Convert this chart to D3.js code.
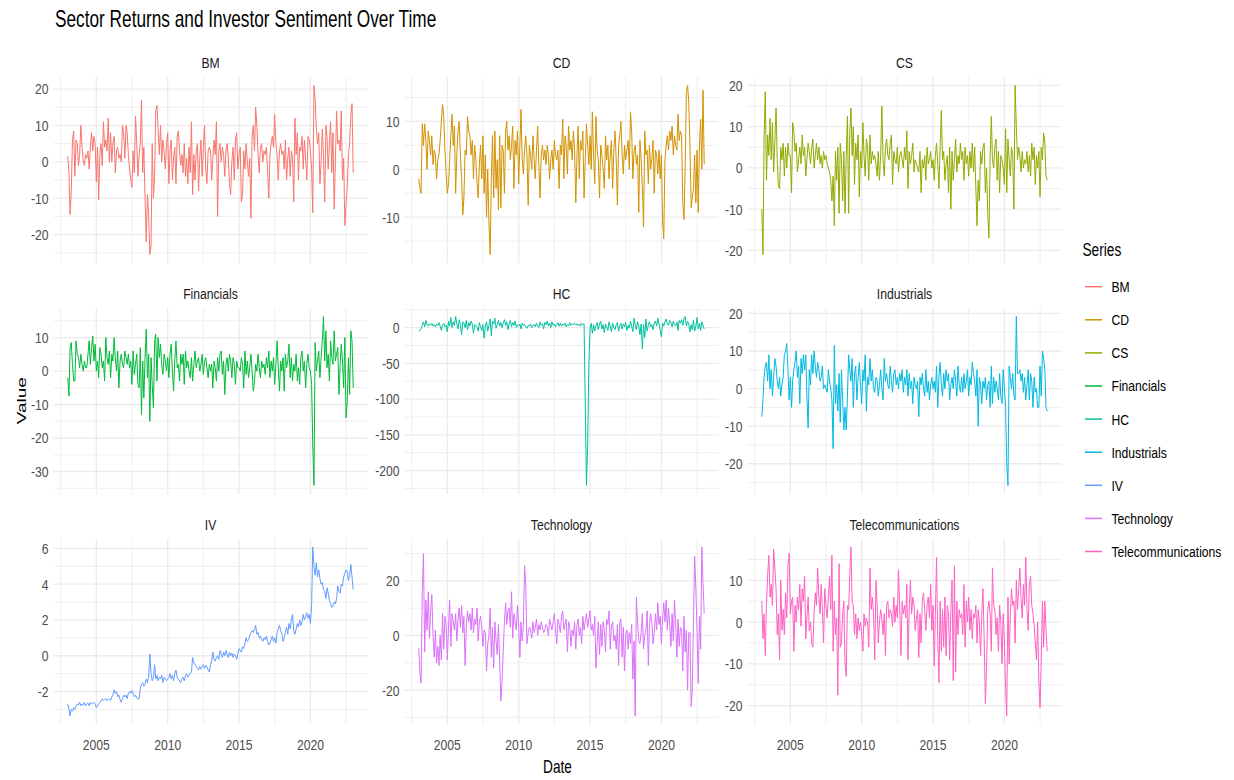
<!DOCTYPE html>
<html>
<head>
<meta charset="utf-8">
<script src="https://cdn.jsdelivr.net/npm/d3@7"></script>
<style>
  body { margin: 0; background: #fff; }
  svg { display: block; font-family: "Liberation Sans", Arial, sans-serif; }
</style>
</head>
<body>
<svg id="chart" width="1234" height="780"></svg>
<script>
'use strict';

// Monthly observations, Jan 2003 .. Jan 2023 (241 values per series)
var first_month = new Date(2003, 0, 1);
var last_month = new Date(2023, 0, 1);

var series_names = ["BM", "CD", "CS", "Financials", "HC", "Industrials", "IV", "Technology", "Telecommunications"];
var series_colors = ["#F8766D", "#D39200", "#93AA00", "#00BA38", "#00C19F", "#00B9E3", "#619CFF", "#DB72FB", "#FF61C3"];

var x_break_years = [2005, 2010, 2015, 2020];

// y breaks per facet, same order as series_names
var y_breaks = [
    [-20, -10, 0, 10, 20],
    [-10, 0, 10],
    [-20, -10, 0, 10, 20],
    [-30, -20, -10, 0, 10],
    [-200, -150, -100, -50, 0],
    [-20, -10, 0, 10, 20],
    [-2, 0, 2, 4, 6],
    [-20, 0, 20],
    [-20, -10, 0, 10]
];

var bm = [
    1.5, -3, -14.5, -8, 6, 8.5, -4, 6, 5, -1, 2, 10,
    4, 0, -1, 2, 1, 3, -2, 4, 8, 3, 7, 5,
    -5.5, 4, -10.5, 2, 5, -1, 11, 4, 6, 3, 12, 0,
    8, 0, 5, 7, -3, 3, 4, 1, 2, 0, 10, 8,
    1, 10, 8, 2, -2, -5, -7, 3, -3, 12.5, 5, -4,
    2, 5, 17, -3, 4, -10, -22, -9, -15, -25.5, -23, 5,
    -10, -4, 14, 15.5, 9, 2, 10, 0, 6, 3, -2, 5,
    8, -6, 3, 6, -5, 1, 4, -6, 7, 8.5, 3, -1,
    2, -3, 5, -4, 1, -6, 4, -3, 11, -9, 2, -5,
    3, 5, -8, 1, 6, -4, 4, 10, -2, -6, 3, 4,
    3, -5, 1, 6, 2, 11, -15, 3, 5, 0, 4, 2,
    -4, 3, 5, 1, -6, -9, 0, 4, -5, 6, 8, -2,
    2, 4, -11, -9, 3, -2, 5, 0, -4, 1, -15.5, 7,
    10, 3, 15, 10, 2, -3, 4, 5, 0, 3, 2, 4,
    -3, -10, 2, 5, 7, 4, 13, 5, 2, -5, 3, 5,
    2, 3, -2, 6, -5, 1, 4, -4, 3, 1, -11, 12,
    2, 8, -5, 4, 3, 7, -2, 6, 1, -5, 7, 6,
    3, -2, -14, 21, 17, 9, 5, 8, -6, 0, 9, 2,
    -11, 10, 7, -2, 5, 11, -3, 8, -13, 0, 14, 5,
    6, 3, 14, -5, 1, -17.5, -12, -7, 2, 5, 13, 16,
    -3
];

var cd = [
    -2, -4, -5, 9.5, 5, 9.5, 6, 0, 8, 6, 3, 7,
    1, 4, 3, -2, 2, 3, 6, 10, 13.5, 11, 4, -1,
    -5, -3, 2, 7, 11.5, 5, 9, -5, 3, 8, 10, 3,
    -2, -9.5, -6, 4, 3, 11, 8, 7, 3, 6, -2, 5,
    2, -3, -6, 1, 5, -2, 7, -5, 3, -10, 0, -11,
    -17.8, -2, 7, -6, 8, -4, 2, -8.5, 7, -8, 5, 4,
    -5, 8, 10, 4, 7, 2, 5, 9, -4, 6, 3, 8,
    -3, 5, 12.5, 2, -1, 4, 7, 3, -7.5, 5, 3, 0,
    7, 2, -2, 4, 9, 1, -6, 3, 5, 2, 4, 1,
    5, 3, -2, 2, 4, 0, 6, 3, 2, 4, -4, 5,
    3, 10.5, -2, 7, 5, -1, 9, 4, 6, 2, 8, 4,
    -7, 3, 9, -2, 6, 4, 8, -6, 2, 9.5, 5, 1,
    7, 0, 12, 3, -3, 11, 4, 2, -6, 5, 3, 0,
    -4, 7, 2, 5, -2, 3, 6, -4, 4, 8, 2, -7.5,
    5, 7, 10, 3, -1, 5, 2, 4, 6, 0, 12, 8,
    -2, 4, 5, 1, 3, -9, 6, 2, -4, -12, 8, 3,
    4, -3, 5, 0, 2, 6, -5, 4, 3, -1, 4, -2,
    3, -11, -14.5, 2, 5, 7, 4, 8, 6, 9, 3, 7,
    5, 4, 11.5, 6, 8, 7, -7, -10.5, 1, 16, 17.5, 14,
    5, -8, -6, -4, 3, -7, 4, -9, 5, 10.5, 0, 16.5,
    1
];

var cs = [
    -10, -21, 7, 18.5, -3, 8, 3, 12, 2, 11, -1, 6,
    14.5, 2, -4.5, -5, 5, 2, 6, -2, 5, 0, 6, 3,
    3, -6, 11, 9, 4, 6, -1, 2, 5, 1, 8, 3,
    5, -2, 2, 6, 4, 1, 5, 7, 0, 3, 6, 2,
    5, 1, 3, 0, 4, 2, 3, 1, 0, -1, -3, -8,
    -2, -14, 4, -3, 5, -11, 6, 2, -8, 4, -11, 3,
    12.5, -11, 8, 14.5, 3, 10, -4, 6, 2, 8, -7, 4,
    0, 11, 3, -2, 7, 5, -3, 8, 1, 4, 2, 3,
    1, -2, 4, -3, 3, 15, 2, -2, 5, 7, 3, 2,
    6, 8, -4, 4, 2, 1, 5, -1, 3, 4, 2, 0,
    5, 2, 9, -5, 4, 1, 3, 6, -1, 2, 1, 0,
    -1, 4, -6, 2, 0, 3, -3, 5, 1, 2, 4, 0,
    2, -3, 3, 6, 1, -5, 5, 14, 2, 4, -3, 1,
    3, -6, 5, -10, 4, -3, 2, 7, -1, 3, 1, 6,
    2, 4, -3, 5, 1, 3, -2, 4, 0, 6, -1, 5,
    -5, -14, -3, -8, 4, 1, 5, 6, -6, 0, -11, -17,
    3, 12.5, 2, 0, 5, 7, -3, 4, -6, 3, 2, 0,
    -4, 9.5, -6, 7, 2, -2, 5, 3, -10, 20, 10, 2,
    5, 3, -1, 4, 0, 2, 1, 4, -1, 3, -2, 6,
    2, 5, -4, 3, 0, 4, -7, 5, 2, 8.5, 6, -2,
    -3
];

var financials = [
    -2, -7.5, 7, 8.5, 2, -3, -3, 9, 5, 4, 1, 5,
    2, 0, 3, 1, 1, 5, 9, 2, 7, 10.5, 3, 8,
    0, 3, -2, 7, 5, 1, 3, -3, 10, 4, 2, 6,
    -2, 5, 3, 10, 4, 0, 6, -5, 3, 5, 2, 1,
    6, 4, 2, 5, 1, 3, -4, 6, -1, 2, 5, -4,
    -5, 7, -13, 3, -8, 4, 12.5, -2, 5, -15, 4, -4,
    -11, 9, 11, -3, 10, 4, 8, 2, -1, 5, 3, 0,
    4, -2, 5, 8, 0, -6, 3, 9, 1, 2, -3, 5,
    2, 5, -4, 6, 1, 3, 0, -2, 4, -3, 2, 6,
    1, 3, 4, 0, 2, 5, -1, 3, 4, 1, -2, 2,
    0, 2, -5, 3, 1, -3, 4, 0, 5, 6, -1, 3,
    -7, 2, 4, 0, 5, 3, -2, 4, 2, -4, 3, 1,
    1, 0, 4, 2, -5, 6, -1, 3, -2, 1, 5, 0,
    -6, -3, 2, 0, 5, 1, -2, 3, 1, 2, -1, 4,
    1, 6, -2, 3, 0, 4, -4, 2, 9, 1, -6, 3,
    0, 4, -6, 5, 1, 3, 8, -2, 4, -3, 2, 0,
    5, -3, 1, -4, 4, 6, 0, 3, -5, 2, 5, 1,
    0, -4, -22, -34.2, 8.5, 0, 3, 6, -2, 4, 9, 16.3,
    3, 12, 1, 5, -3, 9, 4, 2, 12, 3, 5, 7,
    -7, 2, 8, 3, -5, 10, -14, -9, 4, -7, 12, 9,
    -5
];

var hc = [
    -5, -4, -2, 3, 8, 1, 10, 4, 2, 5, 3, 6,
    2, 4, 1, 5, 3, 7, 2, -4, 4, 6, 1, 3,
    -6, 9, 2, 14, 0, 8, 3, 15.5, 5, -2, 11, 4,
    -10, 8, 6, 0, 10, -3, 7, 2, 9, 5, -8, 4,
    3, 0, -5, 7, 1, -4, 4, -15, 2, 8, -5, 3,
    12, -12, 9, 5, 13, -1, 4, 10, 2, 7, 0, 6,
    11, 3, 8, -3, 5, 10, 1, 7, 3, 9, 0, 4,
    2, 5, -2, 6, 3, 4, 1, -1, 3, 2, 5, 0,
    3, 4, 1, 6, 2, 0, 8, 3, 5, -2, 7, 4,
    9, 2, 6, 0, 8, 3, 5, 1, 4, 7, 2, 6,
    2, 5, 3, 6, 1, 4, 2, 7, 3, 5, 4, 6,
    4, 5, 3, 5, 2, 6, 4, 5, -108, -221, -165, -52,
    -2, 6, -8, 4, -5, 3, 7, -3, 5, 9, -2, 4,
    -7, 5, 1, -4, 8, 2, -6, 6, 0, -3, 4, 7,
    -5, 3, 6, -2, 5, 1, 7, -4, 3, -1, 9, 2,
    -6, 13, 4, -3, 8, 2, -10, 5, -30, 4, -14, 12,
    -5, 3, 8, 1, 4, -3, 6, 9, 2, 13, 5, -4,
    -13, 6, 2, 8, 12, 5, 3, 10, 7, 1, 9, 4,
    2, 8, -4, 10, 6, 11, 3, 12, 15.5, 2, 9, 5,
    -6, 4, -3, 10, -5, 2, 14, -2, 6, -4, 8, 3,
    -2
];

var industrials = [
    -7.5, -3, 3, 6, 7, 2, 9, 0, 5, -2, 3, 8,
    6, 2, 0, 3, -2, 1, 3, 9, 10, 12, 5, -3,
    3, -5, 2, 5, 7, 10, 3, 6, -4, 8, 4, 9,
    5, 9, -2, -10.5, 5, 1, 9, 4, 10, 6, 3, 7,
    5, 2, 3, 6, 0, 1, 0, -1, 5, 2, 0, -3,
    -16, 11.5, -4, 1, -6, 4, -9, 5, -3, -11, -5, -11,
    -2, 9, 5, 2, 8, -5, 4, 6, -3, 3, 7, 1,
    -4, 5, 2, 9, -6, 3, 1, 8, 2, 5, 0, -1,
    3, 2, -2, 1, 5, 0, -3, 8, 2, 4, 1, 0,
    6, 2, -1, 4, 5, 1, 3, 0, 4, 2, 5, -1,
    3, 1, 5, -2, 4, 0, 2, -4, 3, 1, 0, 2,
    -7.5, 3, 1, 4, 0, -2, 5, -1, 2, -3, 1, 3,
    0, 2, -1, 6, -5, 3, 7, 1, -2, 4, 0, 5,
    2, 4, -3, 1, 3, 0, 5, 2, -2, 6, 1, -1,
    3, -1, 4, 0, 2, 5, -2, 3, 1, 7, 4, 2,
    -2, 5, -10, 3, 1, -4, 2, 0, 3, -3, 1, 2,
    -5, 6, -4, 3, -1, 2, 0, -3, 4, -2, -4, 5,
    0, -5, -20, -25.8, 6, 3, 0, 4, -2, -3, 19.2, 4,
    4, 5, 2, 4, -1, 3, -3, 1, 5, -3, 4, 2,
    -5, 3, -1, 0, -5, -5, 6, -2, 10, 8, 5, -5,
    -6
];

var iv = [
    -2.7, -3.0, -3.37, -3.0, -3.1, -2.9, -3.0, -2.8, -2.7, -2.75, -2.6, -2.8,
    -2.7, -2.75, -2.6, -2.8, -2.7, -2.65, -2.8, -2.6, -2.7, -2.65, -2.6, -2.7,
    -2.9, -2.8, -2.7, -2.6, -2.55, -2.4, -2.5, -2.45, -2.4, -2.5, -2.45, -2.4,
    -2.5, -2.3, -2.2, -1.9, -2.1, -2.0, -2.3, -2.2, -2.45, -2.6, -2.4, -2.2,
    -2.3, -2.2, -2.4, -2.1, -2.0, -2.1, -1.95, -2.1, -2.3, -2.2, -2.35, -2.4,
    -2.4, -1.8, -1.6, -1.5, -1.7, -1.6, -1.3, -1.5, -1.2, 0.1, -1.0, -1.4,
    -1.2, -0.5, -1.3, -1.1, -1.4, -1.2, -1.3, -1.1, -1.5, -1.2, -1.3, -1.4,
    -1.3, -1.2, -1.0, -1.3, -1.1, -1.4, -1.0, -0.8, -1.2, -1.3, -1.4, -1.5,
    -1.3, -1.2, -1.4, -1.1, -1.0, -1.2, -1.1, -1.0, -0.9, -0.1, -0.4, -0.5,
    -0.6, -0.7, -0.8, -0.6, -0.75, -0.65, -0.5, -0.7, -0.55, -0.6, -0.8, -0.9,
    -0.5, -0.3, 0.2, -0.2, -0.3, -0.1, 0.0, -0.2, 0.3, 0.1, -0.1, 0.2,
    0.0, 0.3, 0.1, -0.1, 0.2, 0.0, 0.15, -0.1, 0.1, 0.0, -0.2, 0.1,
    0.4, 0.3, 0.2, 0.5, 0.4, 0.7, 1.0, 0.8, 0.9, 1.1, 1.3, 1.4,
    1.3, 1.5, 1.7, 1.2, 1.3, 1.0, 1.1, 0.9, 0.8, 1.0, 0.9, 1.1,
    0.8, 0.6, 0.7, 0.9, 1.1, 0.8, 1.0, 0.7, 1.3, 1.5, 1.7, 1.4,
    1.2, 0.8, 1.0, 1.3, 1.6, 1.2, 1.8, 1.5, 2.0, 2.3, 1.4, 1.2,
    1.5, 1.8, 1.6, 2.0, 1.7, 1.9, 2.3, 2.0, 2.2, 2.4, 2.1, 2.3,
    1.8, 2.8, 6.08, 5.0, 4.5, 5.2, 4.4, 4.8, 4.3, 4.0, 4.1, 3.7,
    3.6, 3.2, 3.8, 3.5, 3.1, 2.9, 2.7, 2.8, 3.0, 2.9, 3.2, 3.9,
    3.6, 3.5, 4.0, 3.9, 4.4, 4.6, 4.8, 4.7, 4.2, 4.5, 5.1, 4.4,
    3.7
];

var technology = [
    -4.5, -14, -17.5, 16, 30, -6, 13, 2, 16, -1, 9, 15,
    0, -8, 2, -10, -4, -11, 0, -9, 8, -5, 7, 4,
    -9, 3, 13, -4, 8, 5, 2, 8, -2, 6, 10, 3,
    11, 1, 7, -11, 3, 9, 5, 8, 2, 10, 1, 6,
    4, 10, -2, 5, 7, 3, -4, 2, 1, -13, -3, 0,
    10, -8, 3, -12, 5, -2, -7, 4, -9, -24, -17, -6,
    5, 12, 4, 9, 10, 3, 16, -1, 8, 5, 2, 11,
    3, -8, 5, -2, 4, 25.5, 18, -3, 1, 3, 2, -1,
    5, 1, 3, 6, 0, 4, 2, 5, 3, 1, 2, 4,
    3, 0, 6, 4, 2, 5, 8, 2, -3, 6, 4, 1,
    7, 9, 2, 4, 6, -6, 5, 3, -4, 2, 0, 5,
    -5, 4, 6, 0, 3, -3, 7, 2, 5, 8, 3, 6,
    9, 2, 4, 0, 7, -12, -3, 5, -7, 4, -4, 5,
    2, -6, 6, 4, 9, -5, 3, 5, -2, 0, -5, 4,
    -11, 5, 6, -8, 3, -13, 0, 2, -5, 1, -3, 4,
    -16, -2, -29.5, 14, 5, -2, -3, 1, 8, -5, 0, 2,
    9, -11, 4, 8, 5, -3, 1, 8, 2, 12, 4, 7,
    -3, 6, 12, 5, 13, 2, 10, 4, -4, 8, -2, 13,
    4, -8, 6, -4, 3, 2, -13, 7, -6, 2, -20, 1,
    1, -26, -20, 5, 29, 17, 2, -17.5, 7, -5, 32.4, 19,
    8
];

var telecommunications = [
    5, -4, 2, -8, 4, 11.5, 16, 6, 9, 4, 17.5, 13,
    8, -3, 2, -9, 10, -2, 3, -3, 7, 1, 13.5, 16.5,
    2, 5, 6, -7, 4, 0, 6, 3, 9, -1, 8, 5,
    11, -4, 1, 6, -2, 0, -5, -6, 2, 7, 4, 13,
    6, 2, 9, 3, -5, 8, 4, 1, 6, 11, 3, 16,
    -7, 5, -3, 1, -17.5, 14, -6, -5, 2, 5, -10, -13,
    4, 3, 11, 18, 5, 4, -3, 2, -4, 1, -2, 0,
    -3, -7, 2, -1, 1, 0, -6, 13, 3, 6, 2, -9,
    10, 4, -5, 0, 3, 1, -3, 2, -8, 4, 5, 1,
    3, 2, -1, 6, 0, 4, 1, 12.5, 3, -8, 5, 2,
    4, 1, 9, -9, 3, 10, 2, 6, 4, -2, 1, 3,
    -8.5, 2, -5, 5, 7, 3, -2, 4, 6, 1, 9, -2,
    4, -10.5, 2, 15.5, -4, -14.5, 5, -7, 3, -6, 6, -8,
    4, 2, -9, 3, 10, -14, 13.5, -12, 5, -3, 3, 1,
    2, -3, 9, -6, 5, 0, 6, -2, 3, -4, 2, 1,
    4, -5, 3, 0, -8, 2, 8, -4, -19.5, -11, 3, 5,
    2, -7, 13, 4, 3, -3, 1, -7, 4, 0, -10, 2,
    -5, -16, -22.5, 6, -10, 2, 8, 4, 5, -5, 10, 3,
    8, 13, 6, 1, 9, 4, 15.5, 3, -2, 9, 11, 4,
    2, -1, -5, -9, 0, -14, -20.5, -9, 5, -6, 5, -2,
    -7
];

var series_values = [bm, cd, cs, financials, hc, industrials, iv, technology, telecommunications];

// ---- layout ----
var col_x = [53.5, 404.5, 747.5];
var row_y = [77, 308, 538.5];
var panel_w = 314, panel_h = 186;

var grid_color = "#ebebeb";
var axis_text_color = "#4d4d4d";

var months = d3.timeMonth.range(first_month, d3.timeMonth.offset(last_month, 1));

var svg = d3.select("#chart");
svg.append("rect").attr("width", 1234).attr("height", 780).attr("fill", "#fff");

// text is drawn a little condensed, like the original render
function add_text(parent, x, y, str, size, squeeze, anchor, color) {
    return parent.append("text")
        .attr("transform", "translate(" + x + "," + y + ") scale(" + squeeze + ",1)")
        .attr("text-anchor", anchor || "start")
        .attr("fill", color || "#000")
        .style("font-size", size + "px")
        .text(str);
}

// x scale, 5% expansion on each side like ggplot
var span = last_month - first_month;
var x = d3.scaleTime()
    .domain([new Date(+first_month - span * 0.05), new Date(+last_month + span * 0.05)])
    .range([0, panel_w]);

var x_major = x_break_years.map(y => new Date(y, 0, 1));
var x_ext = [new Date(x_break_years[0] - 5, 0, 1)].concat(x_major, [new Date(x_break_years[x_break_years.length - 1] + 5, 0, 1)]);
var x_minor = [];
for (var i = 0; i < x_ext.length - 1; i++) {
    x_minor.push(new Date((+x_ext[i] + +x_ext[i + 1]) / 2));
}
x_minor = x_minor.filter(d => d >= x.domain()[0] && d <= x.domain()[1]);

series_names.forEach(function(name, k) {
    var col = k % 3, row = Math.floor(k / 3);
    var values = series_values[k];
    var data = months.map((m, i) => ({date: m, value: values[i]}));

    var lo = d3.min(values), hi = d3.max(values);
    var pad = (hi - lo) * 0.05;
    var y = d3.scaleLinear().domain([lo - pad, hi + pad]).range([panel_h, 0]);

    var breaks = y_breaks[k];
    var step = breaks[1] - breaks[0];
    var ext = [breaks[0] - step].concat(breaks, [breaks[breaks.length - 1] + step]);
    var minor = [];
    for (var j = 0; j < ext.length - 1; j++) minor.push((ext[j] + ext[j + 1]) / 2);
    minor = minor.filter(v => v >= y.domain()[0] && v <= y.domain()[1]);

    var g = svg.append("g")
        .attr("transform", "translate(" + col_x[col] + "," + row_y[row] + ")");

    // minor grid
    g.selectAll(".ymin").data(minor).enter().append("line")
        .attr("x1", 0).attr("x2", panel_w)
        .attr("y1", d => y(d)).attr("y2", d => y(d))
        .attr("stroke", grid_color).attr("stroke-width", 0.8);
    g.selectAll(".xmin").data(x_minor).enter().append("line")
        .attr("y1", 0).attr("y2", panel_h)
        .attr("x1", d => x(d)).attr("x2", d => x(d))
        .attr("stroke", grid_color).attr("stroke-width", 0.8);

    // major grid
    g.selectAll(".ymaj").data(breaks).enter().append("line")
        .attr("x1", 0).attr("x2", panel_w)
        .attr("y1", d => y(d)).attr("y2", d => y(d))
        .attr("stroke", grid_color).attr("stroke-width", 1.3);
    g.selectAll(".xmaj").data(x_major).enter().append("line")
        .attr("y1", 0).attr("y2", panel_h)
        .attr("x1", d => x(d)).attr("x2", d => x(d))
        .attr("stroke", grid_color).attr("stroke-width", 1.3);

    // the series
    var line = d3.line().x(d => x(d.date)).y(d => y(d.value));
    g.append("path")
        .datum(data)
        .attr("d", line)
        .attr("fill", "none")
        .attr("stroke", series_colors[k])
        .attr("stroke-width", 1)
        .attr("stroke-linejoin", "round");

    // y labels
    breaks.forEach(function(b) {
        add_text(g, -5, y(b), String(b), 15, 0.81, "end", axis_text_color)
            .attr("dy", "0.36em");
    });

    // strip label
    add_text(g, panel_w / 2, -9, name, 15, 0.81, "middle", "#1a1a1a");

    // x labels on bottom row only
    if (row === 2) {
        x_major.forEach(function(d) {
            add_text(g, x(d), panel_h + 25.5, d3.timeFormat("%Y")(d), 15, 0.81, "middle", axis_text_color);
        });
    }
});

// title and axis titles
add_text(svg, 55, 27, "Sector Returns and Investor Sentiment Over Time", 23, 0.75, "start", "#000");
add_text(svg, (col_x[0] + col_x[2] + panel_w) / 2, 773, "Date", 19, 0.72, "middle", "#000");
svg.append("text")
    .attr("transform", "translate(26," + (row_y[0] + row_y[2] + panel_h) / 2 + ") scale(0.72,1) rotate(-90)")
    .attr("text-anchor", "middle")
    .style("font-size", "19px")
    .text("Value");

// legend
var legend = svg.append("g");
add_text(legend, 1082.5, 256, "Series", 19, 0.72, "start", "#000");
series_names.forEach(function(name, k) {
    var cy = 286.7 + 33.1 * k;
    legend.append("line")
        .attr("x1", 1085).attr("x2", 1102)
        .attr("y1", cy).attr("y2", cy)
        .attr("stroke", series_colors[k])
        .attr("stroke-width", 1.5);
    add_text(legend, 1111.5, cy, name, 15, 0.81, "start", "#000").attr("dy", "0.36em");
});
</script>
</body>
</html>
